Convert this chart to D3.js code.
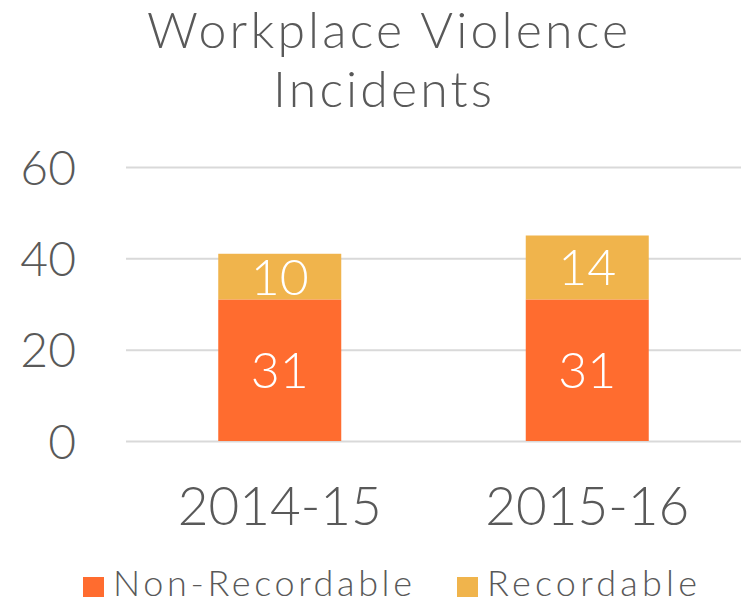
<!DOCTYPE html>
<html>
<head>
<meta charset="utf-8">
<script src="https://cdn.jsdelivr.net/npm/d3@7"></script>
<style>
  body { margin: 0; background: #fff; }
  text { font-family: Lato, "Open Sans", sans-serif; font-weight: 300; }
</style>
</head>
<body>
<div id="chart"></div>
<script>
var WIDTH = 745, HEIGHT = 603;

var years = ["2014-15", "2015-16"];
var nonRecordable = [31, 31];
var recordable = [10, 14];
var seriesNames = ["Non-Recordable", "Recordable"];
var yTicks = [0, 20, 40, 60];
var colors = ["#FF6C2F", "#F0B44C"];

var margin = {top: 167, right: 4, bottom: 162, left: 126};

var svg = d3.select("#chart").append("svg")
  .attr("width", WIDTH)
  .attr("height", HEIGHT);

// title (Century Gothic in the original is wider, so stretch the spacing)
svg.append("text")
  .attr("x", 147).attr("y", 48)
  .attr("textLength", 481).attr("lengthAdjust", "spacing")
  .style("font-size", "50px")
  .style("fill", "#595959")
  .text("Workplace Violence");
svg.append("text")
  .attr("x", 273).attr("y", 107)
  .attr("textLength", 219).attr("lengthAdjust", "spacing")
  .style("font-size", "50px")
  .style("fill", "#595959")
  .text("Incidents");

var innerW = WIDTH - margin.left - margin.right;
var innerH = HEIGHT - margin.top - margin.bottom;

var g = svg.append("g")
  .attr("transform", "translate(" + margin.left + "," + margin.top + ")");

var xScale = d3.scaleBand().domain(years).range([0, innerW]).paddingInner(0.6).paddingOuter(0.3);
var yScale = d3.scaleLinear().domain([0, 60]).range([innerH, 0]);

// gridlines + y labels
g.append("g")
  .attr("class", "axis")
  .call(d3.axisLeft(yScale).tickValues(yTicks).tickSizeInner(-innerW).tickSizeOuter(0).tickPadding(50))
  .call(a => a.select(".domain").remove())
  .call(a => a.selectAll("line").attr("stroke", "#D9D9D9").attr("stroke-width", 2))
  .call(a => a.selectAll("text").style("font-size", "48px").attr("fill", "#595959").attr("dy", "0.36em"));

// x labels
g.append("g")
  .attr("transform", "translate(0," + innerH + ")")
  .call(d3.axisBottom(xScale).tickSize(0).tickPadding(46))
  .call(a => a.select(".domain").remove())
  .call(a => a.selectAll("text").style("font-size", "53px").attr("fill", "#595959"));

var table = years.map(function(y, i) {
  return {year: y, "Non-Recordable": nonRecordable[i], "Recordable": recordable[i]};
});
var stacked = d3.stack().keys(seriesNames)(table);

var layers = g.selectAll(".layer").data(stacked).enter().append("g")
  .attr("fill", function(d, i) { return colors[i]; });

layers.selectAll("rect").data(function(d) { return d; }).enter().append("rect")
  .attr("x", function(d) { return xScale(d.data.year); })
  .attr("width", xScale.bandwidth())
  .attr("y", function(d) { return yScale(d[1]); })
  .attr("height", function(d) { return yScale(d[0]) - yScale(d[1]); });

layers.selectAll(".lbl").data(function(d) { return d; }).enter().append("text")
  .attr("x", function(d) { return xScale(d.data.year) + xScale.bandwidth() / 2; })
  .attr("y", function(d) { return (yScale(d[0]) + yScale(d[1])) / 2; })
  .attr("dy", "0.36em")
  .attr("text-anchor", "middle")
  .style("font-size", "50px")
  .style("fill", "#fff")
  .text(function(d) { return d[1] - d[0]; });

// legend
var legendX = [83, 457];
var legendW = [299, 210];
var legend = svg.selectAll(".legend").data(seriesNames).enter().append("g")
  .attr("transform", function(d, i) { return "translate(" + legendX[i] + ",577)"; });
legend.append("rect")
  .attr("width", 21).attr("height", 20)
  .attr("fill", function(d, i) { return colors[i]; });
legend.append("text")
  .attr("x", 30).attr("y", 19)
  .attr("textLength", function(d, i) { return legendW[i]; })
  .attr("lengthAdjust", "spacing")
  .style("font-size", "36px")
  .style("fill", "#595959")
  .text(function(d) { return d; });
</script>
</body>
</html>
